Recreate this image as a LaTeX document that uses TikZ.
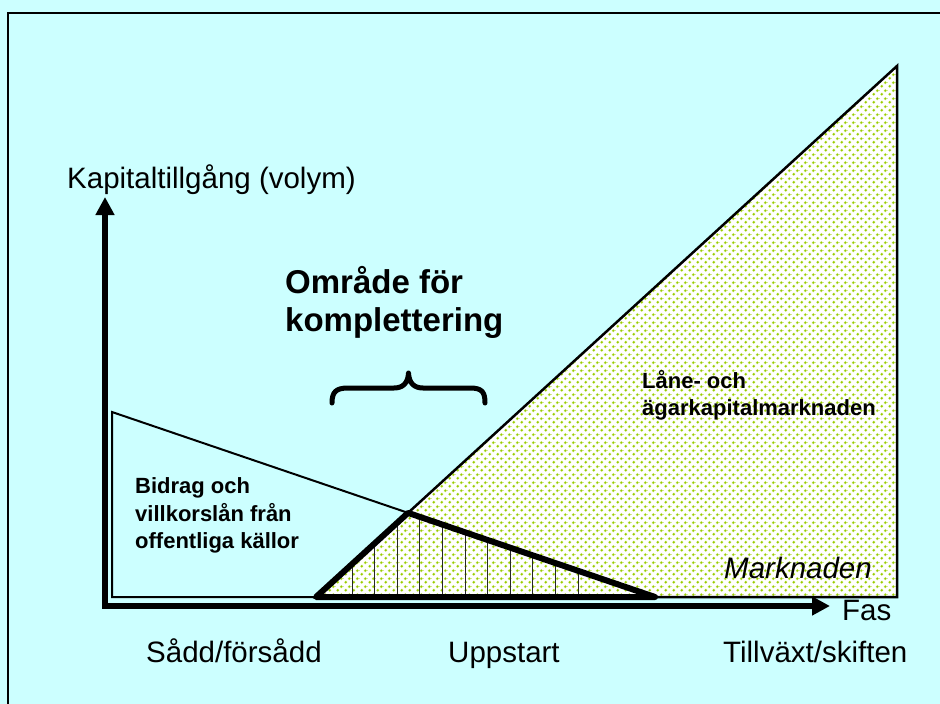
\documentclass[tikz,border=0pt]{standalone}
\usepackage{fontspec}
\setmainfont{Liberation Sans}
\usetikzlibrary{arrows.meta,patterns.meta,calc}
\definecolor{bgcyan}{HTML}{CCFFFF}
\definecolor{dotgreen}{HTML}{99CC00}
\definecolor{dotlight}{HTML}{D2EA8C}
\tikzdeclarepattern{
  name=greendots,
  type=colored,
  bounding box={(0pt,0pt) and (8pt,8pt)},
  tile size={(8pt,8pt)},
  code={
    \fill[dotlight] (2pt,2pt) circle (1.9pt);
    \fill[dotlight] (6pt,6pt) circle (1.9pt);
    \fill[dotgreen] (2pt,2pt) circle (1.2pt);
    \fill[dotgreen] (6pt,6pt) circle (1.2pt);
  }
}
\begin{document}
\begin{tikzpicture}[x=1pt,y=-1pt,
  lbl/.style={inner sep=0pt, anchor=base west, font=\fontsize{29.5}{34}\selectfont},
  ilbl/.style={lbl, font=\fontsize{29.5}{34}\selectfont\itshape},
  blbl/.style={inner sep=0pt, anchor=base west, font=\fontsize{22}{26}\selectfont\bfseries},
  biglbl/.style={inner sep=0pt, anchor=base west, font=\fontsize{33}{38}\selectfont\bfseries},
  axis/.style={line width=5.5pt, line join=miter, {Triangle[width=18pt,length=18pt]}-{Triangle[width=18pt,length=18pt]}},
  thin/.style={line width=2pt, line join=miter},
  thick/.style={line width=6pt, line join=round},
  hatch/.style={line width=1pt, black!85},
  brace/.style={line width=5pt, line cap=round, line join=round}]
\useasboundingbox (0,0) rectangle (940,704);
\clip (0,0) rectangle (940,704);
\fill[bgcyan] (0,0) rectangle (940,704);
\draw[line width=2pt] (8,730) -- (8,13) -- (960,13);

% coordinates
\coordinate (b1) at (316,597);
\coordinate (top) at (897,66);
\coordinate (b2) at (897,597);
\coordinate (pubtop) at (112,412);
\coordinate (pubbot) at (112,597);
\coordinate (h2) at (655,597);
\coordinate (P) at (intersection of b1--top and pubtop--h2);

% market triangle
\fill[white] (b1) -- (top) -- (b2) -- cycle;
\fill[pattern=greendots] (b1) -- (top) -- (b2) -- cycle;
\draw[line width=2.5pt, line join=miter] (b1) -- (top) -- (b2) -- cycle;

% public polygon
\draw[thin] (P) -- (pubtop) -- (pubbot) -- (b1);

% hatched triangle
\begin{scope}
  \clip (b1) -- (P) -- (h2) -- cycle;
  \foreach \i in {0,...,10} {
    \draw[hatch] ({352+22.6*\i},480) -- ({352+22.6*\i},600);
  }
\end{scope}
\draw[thick] (b1) -- (P) -- (h2) -- cycle;

% axes
\coordinate (O) at (105,606);
\coordinate (ytip) at (105,197);
\coordinate (xtip) at (830,606);
\draw[axis] (ytip) -- (O) -- (xtip);

% brace
\draw[brace] (332,403) .. controls (332,392) and (336,388) .. (348,388) -- (394,388)
  .. controls (403,388) and (408,383) .. (408.5,373)
  .. controls (409,383) and (414,388) .. (423,388) -- (470,388)
  .. controls (482,388) and (485,392) .. (485,403);

% labels
\node[lbl] (ylab) at (67,188) {Kapitaltillgång (volym)};
\node[lbl] (xlab) at (842,620) {Fas};
\node[biglbl] (om1) at (285,293) {Område för};
\node[biglbl] (om2) at (285,331) {komplettering};
\node[blbl] (mk1) at (642,388) {Låne- och};
\node[blbl] (mk2) at (642,415) {ägarkapitalmarknaden};
\node[blbl] (pb1) at (135,493) {Bidrag och};
\node[blbl] (pb2) at (135,521) {villkorslån från};
\node[blbl] (pb3) at (135,548) {offentliga källor};
\node[ilbl] (mkn) at (724,578) {Marknaden};
\node[lbl] (ph1) at (146,662) {Sådd/försådd};
\node[lbl] (ph2) at (448,662) {Uppstart};
\node[lbl] (ph3) at (723,662) {Tillväxt/skiften};
\end{tikzpicture}
\end{document}
